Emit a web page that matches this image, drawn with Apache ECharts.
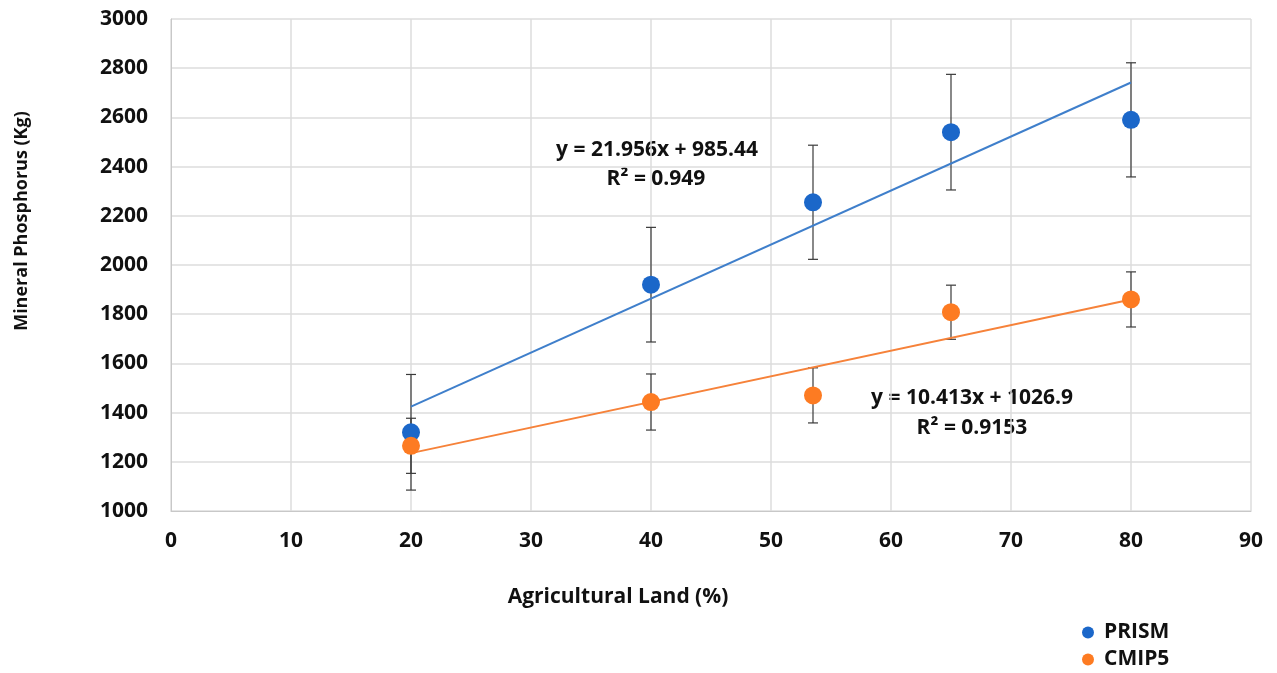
<!DOCTYPE html>
<html>
<head>
<meta charset="utf-8">
<script src="https://cdn.jsdelivr.net/npm/echarts@6/dist/echarts.min.js"></script>
<style>
  html, body { margin: 0; padding: 0; background: #fff; }
  #main { width: 1277px; height: 673px; }
</style>
</head>
<body>
<div id="main"></div>
<script>
// data
const landPct = [20, 40, 53.5, 65, 80];
const prism = [1320, 1920, 2255, 2540, 2590];
const prismErr = [235, 233, 232, 235, 232];
const cmip5 = [1265, 1443, 1470, 1808, 1860];
const cmip5Err = [112, 114, 112, 110, 112];
// trend line ends (from the printed fits)
const prismTrend = [[20, 1424.6], [80, 2741.9]];
const cmip5Trend = [[20, 1235.2], [80, 1859.9]];
const xTicks = { min: 0, max: 90, step: 10 };
const yTicks = { min: 1000, max: 3000, step: 200 };

const myChart = echarts.init(document.getElementById('main'));

const FONT = '"Open Sans", sans-serif';
const BLUE = '#1b67c9';
const BLUE_LINE = '#3f7fcb';
const ORANGE = '#fd7b22';
const ORANGE_LINE = '#f6823a';

const pts = (ys) => landPct.map((x, i) => [x, ys[i]]);
const errs = (ys, es) => landPct.map((x, i) => [x, ys[i] - es[i], ys[i] + es[i]]);

// vertical error bars with caps
const errorBars = (name, data) => ({
  name: name + ' err',
  type: 'custom',
  z: 2,
  silent: true,
  data: data,
  renderItem: (params, api) => {
    const lo = api.coord([api.value(0), api.value(1)]);
    const hi = api.coord([api.value(0), api.value(2)]);
    const w = 5;
    const style = { stroke: '#3a3a3a', lineWidth: 1.2 };
    return {
      type: 'group',
      children: [
        { type: 'line', shape: { x1: lo[0], y1: lo[1], x2: hi[0], y2: hi[1] }, style },
        { type: 'line', shape: { x1: lo[0] - w, y1: lo[1], x2: lo[0] + w, y2: lo[1] }, style },
        { type: 'line', shape: { x1: hi[0] - w, y1: hi[1], x2: hi[0] + w, y2: hi[1] }, style }
      ]
    };
  }
});

const trend = (name, data, color) => ({
  name: name + ' trend',
  type: 'line',
  z: 3,
  silent: true,
  symbol: 'none',
  data: data,
  lineStyle: { color: color, width: 2 }
});

const label = (x, y, text, size) => ({
  type: 'text', x: x, y: y,
  style: { text: text, font: 'bold ' + size + 'px ' + FONT, fill: '#111', align: 'center', verticalAlign: 'middle' }
});

const option = {
  animation: false,
  textStyle: { fontFamily: FONT },
  grid: { left: 171, right: 26, top: 19, bottom: 162, containLabel: false, outerBoundsMode: 'none' },
  xAxis: {
    type: 'value',
    min: xTicks.min, max: xTicks.max, interval: xTicks.step,
    axisLine: { show: true, lineStyle: { color: '#c8c8c8' } },
    axisTick: { show: false },
    axisLabel: { margin: 20, fontFamily: FONT, fontWeight: 'bold', fontSize: 21, color: '#111', formatter: v => String(v) },
    splitLine: { show: true, lineStyle: { color: '#dcdcdc', width: 1.5 } }
  },
  yAxis: {
    type: 'value',
    min: yTicks.min, max: yTicks.max, interval: yTicks.step,
    axisLine: { show: true, lineStyle: { color: '#c8c8c8' } },
    axisTick: { show: false },
    axisLabel: { margin: 23, fontFamily: FONT, fontWeight: 'bold', fontSize: 21, color: '#111', formatter: v => String(v) },
    splitLine: { show: true, lineStyle: { color: '#dcdcdc', width: 1.5 } }
  },
  legend: {
    data: ['PRISM', 'CMIP5'],
    orient: 'vertical',
    left: 1082,
    top: 622,
    padding: 0,
    itemGap: 6,
    itemWidth: 12,
    itemHeight: 12,
    icon: 'circle',
    textStyle: { fontFamily: FONT, fontWeight: 'bold', fontSize: 21, lineHeight: 21, color: '#111', padding: [0, 0, 0, 5] }
  },
  graphic: [
    {
      type: 'text', x: 22, y: 221, rotation: Math.PI / 2,
      style: { text: 'Mineral Phosphorus (Kg)', font: 'bold 18px ' + FONT, fill: '#111', align: 'center', verticalAlign: 'middle' }
    },
    label(618, 597, 'Agricultural Land (%)', 21),
    label(657, 150, 'y = 21.956x + 985.44', 21),
    label(656, 179, 'R² = 0.949', 21),
    label(972, 398, 'y = 10.413x + 1026.9', 21),
    label(972, 428, 'R² = 0.9153', 21)
  ],
  series: [
    errorBars('PRISM', errs(prism, prismErr)),
    errorBars('CMIP5', errs(cmip5, cmip5Err)),
    trend('PRISM', prismTrend, BLUE_LINE),
    trend('CMIP5', cmip5Trend, ORANGE_LINE),
    {
      name: 'PRISM', type: 'scatter', z: 4, symbolSize: 18,
      itemStyle: { color: BLUE, opacity: 1 },
      data: pts(prism)
    },
    {
      name: 'CMIP5', type: 'scatter', z: 5, symbolSize: 18,
      itemStyle: { color: ORANGE, opacity: 1 },
      data: pts(cmip5)
    }
  ]
};

myChart.setOption(option);
</script>
</body>
</html>
